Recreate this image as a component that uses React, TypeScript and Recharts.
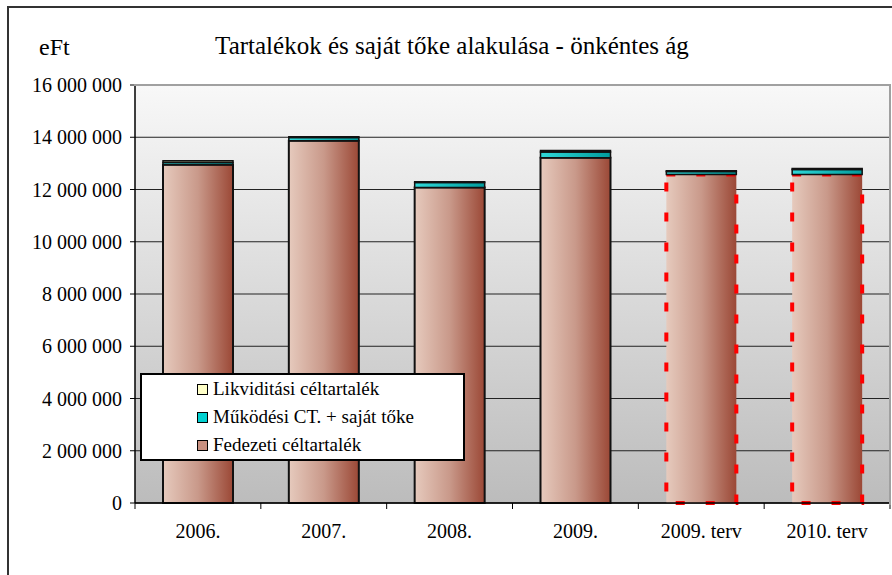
import React from 'react';
import { BarChart, Bar, XAxis, YAxis, CartesianGrid, Cell, Legend } from 'recharts';

const categories = ['2006.', '2007.', '2008.', '2009.', '2009. terv', '2010. terv'];
const fedezeti = [12950000, 13870000, 12080000, 13220000, 12570000, 12570000];
const mukodesi = [80000, 120000, 190000, 220000, 120000, 200000];
const likviditasi = [70000, 30000, 30000, 50000, 30000, 30000];
const planned = [false, false, false, false, true, true];
const yTicks = [0, 2000000, 4000000, 6000000, 8000000, 10000000, 12000000, 14000000, 16000000];

const seriesNames = {
  fed: 'Fedezeti céltartalék',
  muk: 'Működési CT. + saját tőke',
  lik: 'Likviditási céltartalék',
};
const legendOrder = ['lik', 'muk', 'fed'];

const data = categories.map((c, i) => ({
  name: c,
  fed: fedezeti[i],
  muk: mukodesi[i],
  lik: likviditasi[i],
  planned: planned[i],
}));

const FONT = "'Liberation Serif', 'Times New Roman', Tinos, FreeSerif";

const fmt = (v: number) => String(v).replace(/\B(?=(\d{3})+(?!\d))/g, ' ');

const YTick = (props: any) => {
  const { x, y, payload } = props;
  return (
    <text x={x} y={y} dy="0.35em" textAnchor="end" style={{ fontFamily: FONT, fontSize: 20 }} fill="#000">
      {fmt(payload.value)}
    </text>
  );
};

const XTick = (props: any) => {
  const { x, y, payload, index, width } = props;
  const band = width / categories.length;
  return (
    <g>
      <line x1={x - band / 2} x2={x - band / 2} y1={y} y2={y + 6} stroke="#000" strokeWidth={1} />
      {index === categories.length - 1 && (
        <line x1={x + band / 2} x2={x + band / 2} y1={y} y2={y + 6} stroke="#000" strokeWidth={1} />
      )}
      <text x={x} y={y + 35} textAnchor="middle" style={{ fontFamily: FONT, fontSize: 20 }} fill="#000">
        {payload.value}
      </text>
    </g>
  );
};

const legendColors: Record<string, string> = {
  lik: '#ffffc8',
  muk: '#00d0d0',
  fed: '#c89080',
};

const LegendBox = (props: any) => {
  const items = [...(props.payload || [])].sort(
    (a: any, b: any) => legendOrder.indexOf(a.dataKey) - legendOrder.indexOf(b.dataKey)
  );
  return (
    <div
      style={{
        width: 325,
        height: 88,
        boxSizing: 'border-box',
        border: '2px solid #000',
        background: '#fff',
        paddingTop: 0,
      }}
    >
      {items.map((it: any) => (
        <div key={it.dataKey} style={{ display: 'flex', alignItems: 'center', height: 28, paddingLeft: 55 }}>
          <span
            style={{
              display: 'inline-block',
              width: 9,
              height: 9,
              border: '1px solid #000',
              background: legendColors[it.dataKey],
              marginRight: 5,
            }}
          />
          <span style={{ fontFamily: FONT, fontSize: 19, color: '#000', lineHeight: '20px' }}>{it.value}</span>
        </div>
      ))}
    </div>
  );
};

export default function App() {
  return (
    <div style={{ position: 'absolute', left: 0, top: 0, width: 892, height: 575, overflow: 'hidden', background: '#fff' }}>
      <div
        style={{
          position: 'absolute',
          left: 7,
          top: 6,
          width: 1000,
          height: 1000,
          borderTop: '2px solid #333',
          borderLeft: '2px solid #333',
        }}
      />
      <div style={{ position: 'absolute', left: 39, top: 32, fontFamily: FONT, fontSize: 24, color: '#000', lineHeight: '30px' }}>
        eFt
      </div>
      <div
        style={{
          position: 'absolute',
          left: 0,
          width: 904,
          top: 31,
          textAlign: 'center',
          fontFamily: FONT,
          fontSize: 25,
          color: '#000',
          lineHeight: '30px',
        }}
      >
        Tartalékok és saját tőke alakulása - önkéntes ág
      </div>
      <BarChart
        width={892}
        height={575}
        data={data}
        margin={{ top: 85, right: 2, bottom: 42, left: 0 }}
        barSize={70}
        style={{ position: 'absolute', left: 0, top: 0 }}
      >
        <defs>
          <linearGradient id="bgGrad" x1="0" y1="0" x2="0" y2="1">
            <stop offset="0%" stopColor="#f8f8f8" />
            <stop offset="100%" stopColor="#bcbcbc" />
          </linearGradient>
          <linearGradient id="barGrad" x1="0" y1="0" x2="1" y2="0">
            <stop offset="0%" stopColor="#e6cabd" />
            <stop offset="50%" stopColor="#c9998a" />
            <stop offset="100%" stopColor="#9b4836" />
          </linearGradient>
          <linearGradient id="cyanGrad" x1="0" y1="0" x2="1" y2="0">
            <stop offset="0%" stopColor="#30d8d8" />
            <stop offset="100%" stopColor="#009c9c" />
          </linearGradient>
        </defs>
        <CartesianGrid vertical={false} stroke="#222" strokeWidth={1} fill="url(#bgGrad)" fillOpacity={1} />
        <XAxis
          dataKey="name"
          height={30}
          tick={<XTick />}
          tickLine={false}
          tickSize={0}
          tickMargin={0}
          axisLine={{ stroke: '#000', strokeWidth: 1.5 }}
          interval={0}
        />
        <YAxis
          width={135}
          domain={[0, 16000000]}
          ticks={yTicks}
          tick={<YTick />}
          tickSize={5}
          tickMargin={8}
          tickLine={{ stroke: '#000' }}
          axisLine={{ stroke: '#000', strokeWidth: 1.5 }}
          interval={0}
        />
        <Legend
          layout="horizontal"
          verticalAlign="middle"
          align="center"
          content={<LegendBox />}
          wrapperStyle={{ position: 'absolute', left: 140, top: 373, width: 325, height: 88 }}
        />
        <Bar dataKey="fed" name={seriesNames.fed} stackId="a" fill="url(#barGrad)" isAnimationActive={false}>
          {data.map((d, i) => (
            <Cell
              key={i}
              fill="url(#barGrad)"
              stroke={d.planned ? '#ff0000' : '#111'}
              strokeWidth={d.planned ? 4 : 2}
              strokeDasharray={d.planned ? '9 21' : undefined}
            />
          ))}
        </Bar>
        <Bar dataKey="muk" name={seriesNames.muk} stackId="a" fill="url(#cyanGrad)" stroke="#111" strokeWidth={1.5} isAnimationActive={false} />
        <Bar dataKey="lik" name={seriesNames.lik} stackId="a" fill="#ffffc8" stroke="#111" strokeWidth={1.5} isAnimationActive={false} />
      </BarChart>
      <div
        style={{
          position: 'absolute',
          left: 134,
          top: 84,
          width: 755,
          height: 419,
          borderTop: '2px solid #a0a0a0',
          borderRight: '2px solid #a0a0a0',
          pointerEvents: 'none',
        }}
      />
    </div>
  );
}
